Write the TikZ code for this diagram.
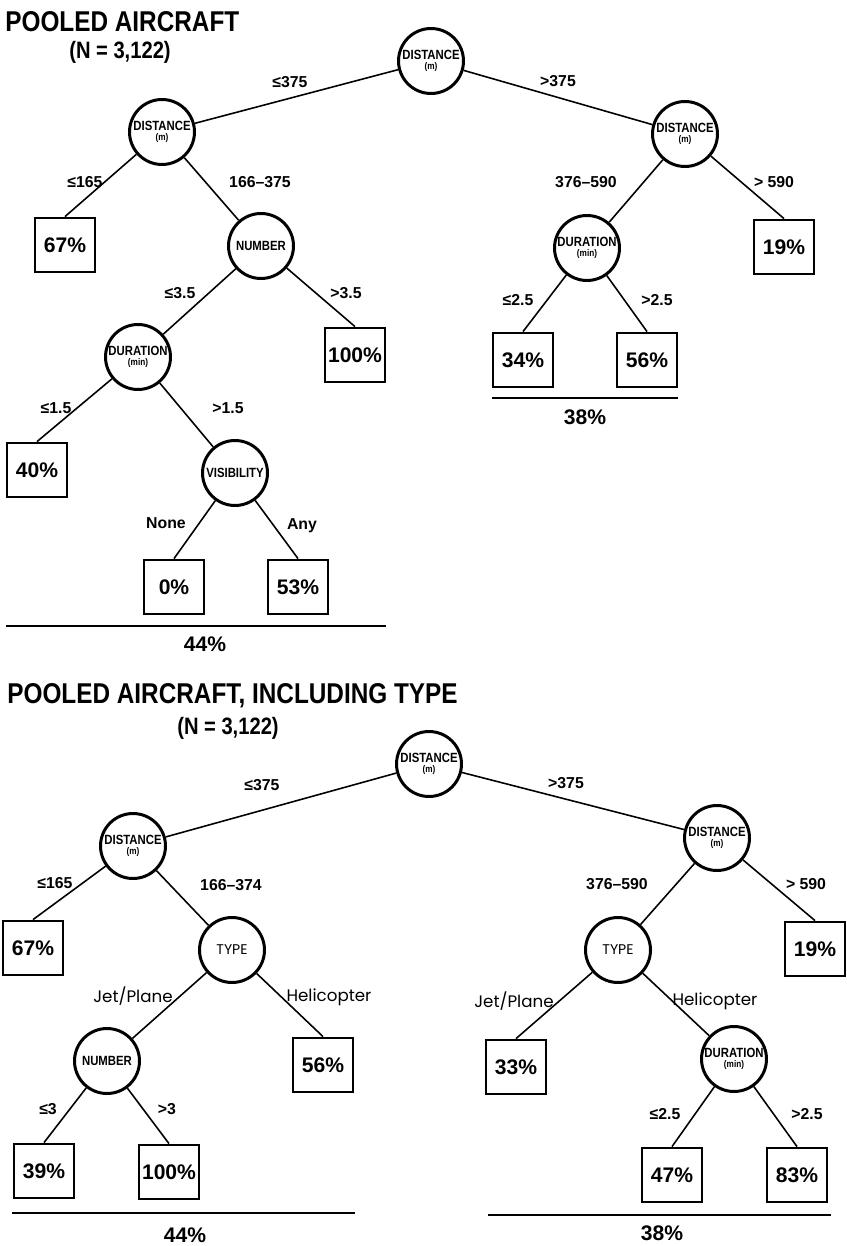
\documentclass[tikz,border=0pt]{standalone}
\usepackage{fontspec}
\setmainfont{Liberation Sans}
\newfontfamily\cond[FakeStretch=0.85]{Liberation Sans}
\newfontfamily\geo{Poppins}

\tikzset{
  rama/.style={draw,circle,line width=1.7pt,minimum size=1.3cm,inner sep=0pt,
    align=center,font=\cond\bfseries\fontsize{7.6}{6.5}\selectfont},
  foglia/.style={draw,rectangle,line width=1.6pt,minimum width=1.2cm,
    minimum height=1.08cm,inner sep=0pt,font=\bfseries\fontsize{12}{14}\selectfont},
  ramo/.style={line width=0.9pt},
  etich/.style={inner sep=1pt,font=\bfseries\fontsize{9}{10}\selectfont},
  tipo/.style={inner sep=1pt,font=\geo\fontsize{9.5}{11}\selectfont},
  titolo/.style={anchor=west,inner sep=0pt,font=\cond\bfseries\fontsize{16.3}{18}\selectfont},
  totale/.style={inner sep=1pt,font=\bfseries\fontsize{12}{14}\selectfont}
}
\newcommand{\unita}[2]{#1\\[-1pt]{\fontsize{5.5}{5.5}\selectfont (#2)}}

\begin{document}
\begin{tikzpicture}[x=0.02cm,y=-0.02cm]
  \useasboundingbox (0,0) rectangle (846,1246);

  % albero superiore
  \node[titolo] (tA) at (5,22) {POOLED AIRCRAFT};
  \node[totale,font=\cond\bfseries\fontsize{13.5}{15}\selectfont] (nA) at (120,52) {(N = 3,122)};

  \node[rama] (rootA) at (431,61) {\unita{DISTANCE}{m}};
  \node[rama] (distAL) at (162,132) {\unita{DISTANCE}{m}};
  \node[rama] (distAR) at (685,134) {\unita{DISTANCE}{m}};
  \node[foglia] (p67a) at (65,245) {67\%};
  \node[rama] (numA) at (261,246) {NUMBER};
  \node[rama] (durAL) at (138,357) {\unita{DURATION}{min}};
  \node[foglia] (p100a) at (355,355) {100\%};
  \node[foglia] (p40a) at (37,470) {40\%};
  \node[rama] (visA) at (235,473) {VISIBILITY};
  \node[foglia] (p0a) at (174,587) {0\%};
  \node[foglia] (p53a) at (298,587) {53\%};
  \node[rama] (durAR) at (587,248) {\unita{DURATION}{min}};
  \node[foglia] (p19a) at (784,247) {19\%};
  \node[foglia] (p34a) at (523,360) {34\%};
  \node[foglia] (p56a) at (647,360) {56\%};

  \draw[ramo] (rootA) -- (distAL);
  \draw[ramo] (rootA) -- (distAR);
  \draw[ramo] (distAL) -- (p67a.north);
  \draw[ramo] (distAL) -- (numA);
  \draw[ramo] (numA) -- (durAL);
  \draw[ramo] (numA) -- (p100a.north);
  \draw[ramo] (durAL) -- (p40a.north);
  \draw[ramo] (durAL) -- (visA);
  \draw[ramo] (visA) -- (p0a.north);
  \draw[ramo] (visA) -- (p53a.north);
  \draw[ramo] (distAR) -- (durAR);
  \draw[ramo] (distAR) -- (p19a.north);
  \draw[ramo] (durAR) -- (p34a.north);
  \draw[ramo] (durAR) -- (p56a.north);

  \node[etich] (e1a) at (290,82) {≤375};
  \node[etich] (e2a) at (558,81) {>375};
  \node[etich] (e3a) at (85,182) {≤165};
  \node[etich] (e4a) at (260,182) {166–375};
  \node[etich] (e5a) at (586,182) {376–590};
  \node[etich] (e6a) at (774,182) {> 590};
  \node[etich] (e7a) at (180,293) {≤3.5};
  \node[etich] (e8a) at (346,293) {>3.5};
  \node[etich] (e9a) at (56,408) {≤1.5};
  \node[etich] (e10a) at (228,408) {>1.5};
  \node[etich] (e11a) at (166,523) {None};
  \node[etich] (e12a) at (302,526) {Any};
  \node[etich] (e13a) at (518,300) {≤2.5};
  \node[etich] (e14a) at (657,300) {>2.5};

  % totali
  \draw[ramo] (6,626) -- (386,626);
  \node[totale] (s44a) at (205,644) {44\%};
  \draw[ramo] (492,398) -- (678,398);
  \node[totale] (s38a) at (585,417) {38\%};

  % albero inferiore
  \node[titolo] (tB) at (7,696) {POOLED AIRCRAFT, INCLUDING TYPE};
  \node[totale,font=\cond\bfseries\fontsize{13.5}{15}\selectfont] (nB) at (228,728) {(N = 3,122)};

  \node[rama] (rootB) at (429,764) {\unita{DISTANCE}{m}};
  \node[rama] (distBL) at (133,846) {\unita{DISTANCE}{m}};
  \node[rama] (distBR) at (717,838) {\unita{DISTANCE}{m}};
  \node[foglia] (p67b) at (33,948) {67\%};
  \node[rama,font=\geo\fontsize{8}{8}\selectfont] (typeBL) at (232,950) {TYPE};
  \node[rama] (numB) at (107,1061) {NUMBER};
  \node[foglia] (p56b) at (323,1065) {56\%};
  \node[foglia] (p39b) at (44,1171) {39\%};
  \node[foglia] (p100b) at (169,1172) {100\%};
  \node[rama,font=\geo\fontsize{8}{8}\selectfont] (typeBR) at (618,950) {TYPE};
  \node[foglia] (p19b) at (815,949) {19\%};
  \node[foglia] (p33b) at (516,1067) {33\%};
  \node[rama] (durBR) at (734,1059) {\unita{DURATION}{min}};
  \node[foglia] (p47b) at (672,1175) {47\%};
  \node[foglia] (p83b) at (797,1175) {83\%};

  \draw[ramo] (rootB) -- (distBL);
  \draw[ramo] (rootB) -- (distBR);
  \draw[ramo] (distBL) -- (p67b.north);
  \draw[ramo] (distBL) -- (typeBL);
  \draw[ramo] (typeBL) -- (numB);
  \draw[ramo] (typeBL) -- (p56b.north);
  \draw[ramo] (numB) -- (p39b.north);
  \draw[ramo] (numB) -- (p100b.north);
  \draw[ramo] (distBR) -- (typeBR);
  \draw[ramo] (distBR) -- (p19b.north);
  \draw[ramo] (typeBR) -- (p33b.north);
  \draw[ramo] (typeBR) -- (durBR);
  \draw[ramo] (durBR) -- (p47b.north);
  \draw[ramo] (durBR) -- (p83b.north);

  \node[etich] (e1b) at (262,785) {≤375};
  \node[etich] (e2b) at (566,783) {>375};
  \node[etich] (e3b) at (55,883) {≤165};
  \node[etich] (e4b) at (231,885) {166–374};
  \node[tipo] (e5b) at (133,996) {Jet/Plane};
  \node[tipo] (e6b) at (329,997) {Helicopter};
  \node[etich] (e7b) at (48,1109) {≤3};
  \node[etich] (e8b) at (167,1109) {>3};
  \node[etich] (e9b) at (617,884) {376–590};
  \node[etich] (e10b) at (806,884) {> 590};
  \node[tipo] (e11b) at (514,1001) {Jet/Plane};
  \node[tipo] (e12b) at (715,1001) {Helicopter};
  \node[etich] (e13b) at (665,1114) {≤2.5};
  \node[etich] (e14b) at (807,1114) {>2.5};

  % totali
  \draw[ramo] (12,1213) -- (355,1213);
  \node[totale] (s44b) at (185,1235) {44\%};
  \draw[ramo] (488,1215) -- (831,1215);
  \node[totale] (s38b) at (662,1233) {38\%};
\end{tikzpicture}
\end{document}
